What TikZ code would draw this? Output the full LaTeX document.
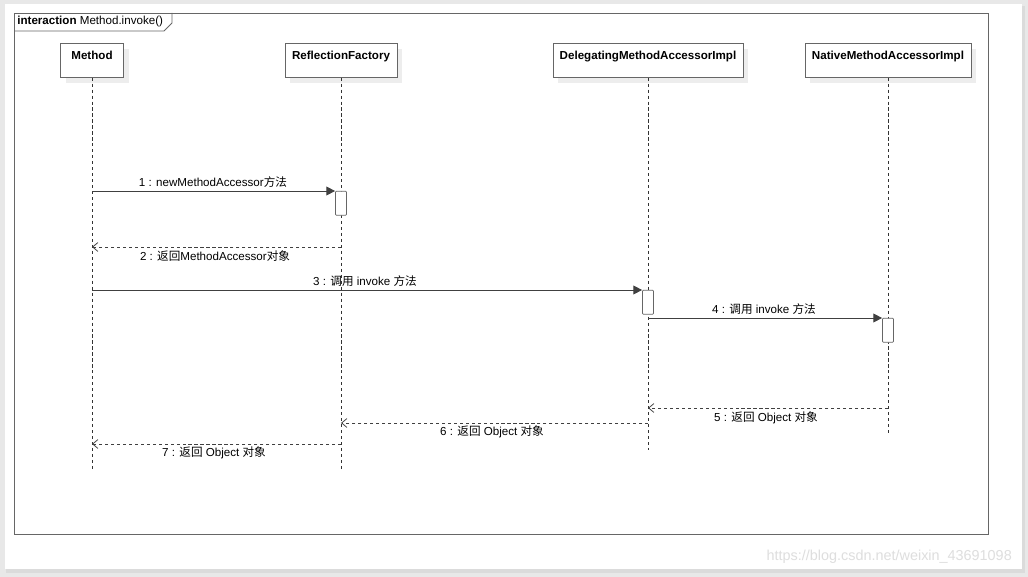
\documentclass[tikz,border=0pt]{standalone}
\usepackage{fontspec}
\setmainfont{Liberation Sans}
\newfontfamily\cjk{Noto Sans CJK SC}
\usetikzlibrary{arrows.meta,shadows}

\tikzset{
  head/.style={draw=black!60, fill=white, anchor=north, font=\fontsize{6.6}{8}\selectfont\bfseries,
    inner xsep=0pt, inner ysep=3pt, text height=6pt, text depth=7.3pt,
    drop shadow={fill=black!7, opacity=1, shadow xshift=3pt, shadow yshift=-3pt}},
  life/.style={black!80, line width=0.45pt, dash pattern=on 1.8pt off 1.6pt},
  act/.style={draw=black!60, fill=white, anchor=north, minimum width=0.22cm, minimum height=0.48cm,
    inner sep=0pt, rounded corners=0.5pt},
  call/.style={black!75, line width=0.5pt, -{Triangle[length=5pt,width=5pt]}},
  ret/.style={black!75, line width=0.45pt, dash pattern=on 1.8pt off 1.6pt, -{Straight Barb[length=3pt,width=5pt]}},
  msg/.style={font=\fontsize{6.6}{8}\selectfont}
}

\begin{document}
\begin{tikzpicture}[x=0.02cm, y=-0.02cm]
	% card
	\fill[black!9] (0,0) rectangle (1028,577);
	\fill[black!14] (6,6) rectangle (1025,573);
	\fill[white] (5,4) rectangle (1022,569);
	\useasboundingbox (0,0) rectangle (1028,577);
	
	% frame
	\draw[black!60, line width=0.5pt] (14,13) rectangle (988,534);
	\draw[black!60, line width=0.5pt] (14,31) -- (164,31) -- (172,23) -- (172,13);
	\node[anchor=west, msg, inner sep=0pt] (title) at (17,21.5) {\textbf{interaction} Method.invoke()};
	
	% heads
	\node[head, minimum width=1.26cm] (m) at (92,43) {Method};
	\node[head, minimum width=2.24cm] (rf) at (341,43) {ReflectionFactory};
	\node[head, minimum width=3.8cm] (d) at (648,43) {DelegatingMethodAccessorImpl};
	\node[head, minimum width=3.32cm] (n) at (888,43) {NativeMethodAccessorImpl};
	
	% lifelines
	\coordinate (mEnd) at (92,470);
	\coordinate (rfEnd) at (341,470);
	\coordinate (dEnd) at (648,450);
	\coordinate (nEnd) at (888,435);
	\draw[life] (m.south) -- (mEnd);
	\draw[life] (rf.south) -- (rfEnd);
	\draw[life] (d.south) -- (dEnd);
	\draw[life] (n.south) -- (nEnd);
	
	% activations
	\node[act] (a1) at (341,191) {};
	\node[act] (a2) at (648,290) {};
	\node[act] (a3) at (888,318) {};
	
	% messages
	\draw[call] (m.south |- a1.north) -- (a1.north west);
	\node[msg] (l1) at (213,182) {1 : newMethodAccessor{\cjk 方法}};
	
	\coordinate (r2) at (341,247);
	\draw[ret] (r2) -- (m.south |- r2);
	\node[msg] (l2) at (215,256) {2 : {\cjk 返回}MethodAccessor{\cjk 对象}};
	
	\draw[call] (m.south |- a2.north) -- (a2.north west);
	\node[msg] (l3) at (365,281) {3 : {\cjk 调用} invoke {\cjk 方法}};
	
	\draw[call] (d.south |- a3.north) -- (a3.north west);
	\node[msg] (l4) at (764,309) {4 : {\cjk 调用} invoke {\cjk 方法}};
	
	\coordinate (r5) at (888,408);
	\draw[ret] (r5) -- (d.south |- r5);
	\node[msg] (l5) at (766,418) {5 : {\cjk 返回} Object {\cjk 对象}};
	
	\coordinate (r6) at (648,423);
	\draw[ret] (r6) -- (rf.south |- r6);
	\node[msg] (l6) at (492,432) {6 : {\cjk 返回} Object {\cjk 对象}};
	
	\coordinate (r7) at (341,444);
	\draw[ret] (r7) -- (m.south |- r7);
	\node[msg] (l7) at (214,453) {7 : {\cjk 返回} Object {\cjk 对象}};
	
	% watermark
	\node[anchor=east, text=black!13, font=\fontsize{8.2}{10}\selectfont] (wm) at (1018,557) {https://blog.csdn.net/weixin\_43691098};
\end{tikzpicture}
\end{document}
